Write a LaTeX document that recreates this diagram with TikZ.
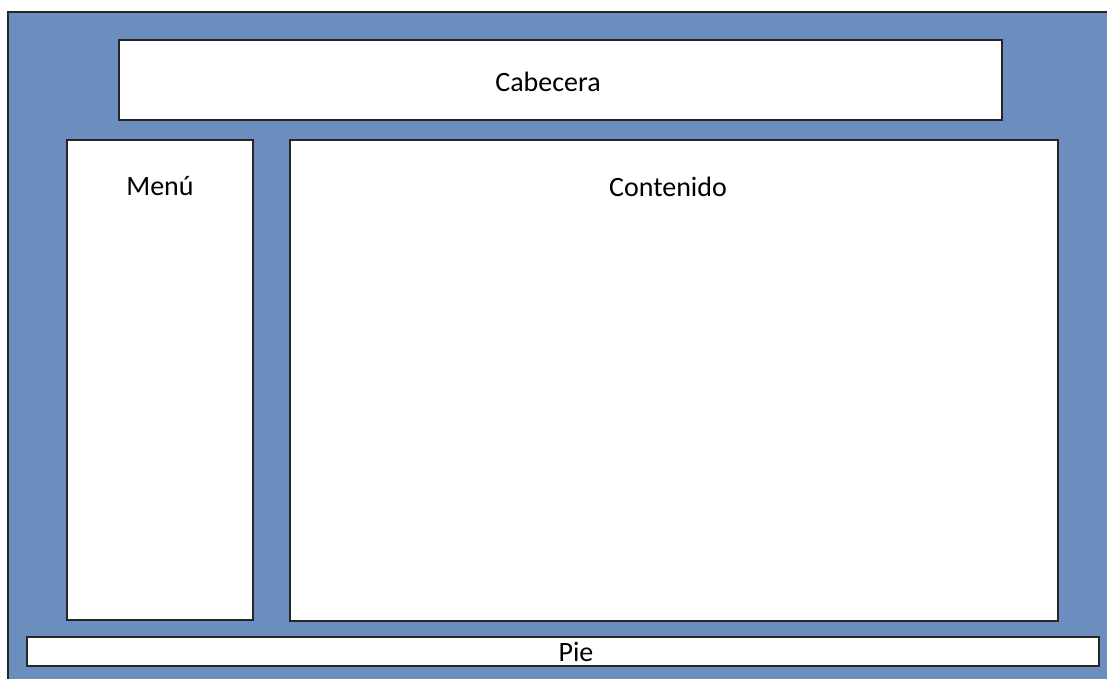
\documentclass[tikz,border=0pt]{standalone}
\usepackage{fontspec}
\setmainfont{Carlito}
\definecolor{bgblue}{RGB}{108,142,191}
\begin{document}
\begin{tikzpicture}[x=1pt,y=-1pt,
  box/.style={draw=black!85,line width=1.6pt,fill=white},
  lbl/.style={font=\fontsize{28}{32}\selectfont,inner sep=0pt}]
\useasboundingbox (0,0) rectangle (1107,678);
\clip (0,0) rectangle (1107,678);
\draw[box,fill=bgblue] (8,12) rectangle (1120,690);
\draw[box] (119,40) rectangle (1002,120);
\draw[box] (67,140) rectangle (253,620);
\draw[box] (290,140) rectangle (1058,621);
\draw[box] (27,637) rectangle (1099,666);
\node[lbl] (cab) at (548,82) {Cabecera};
\node[lbl] (menu) at (160,186) {Menú};
\node[lbl] (cont) at (668,187) {Contenido};
\node[lbl] (pie) at (576,652) {Pie};
\end{tikzpicture}
\end{document}
